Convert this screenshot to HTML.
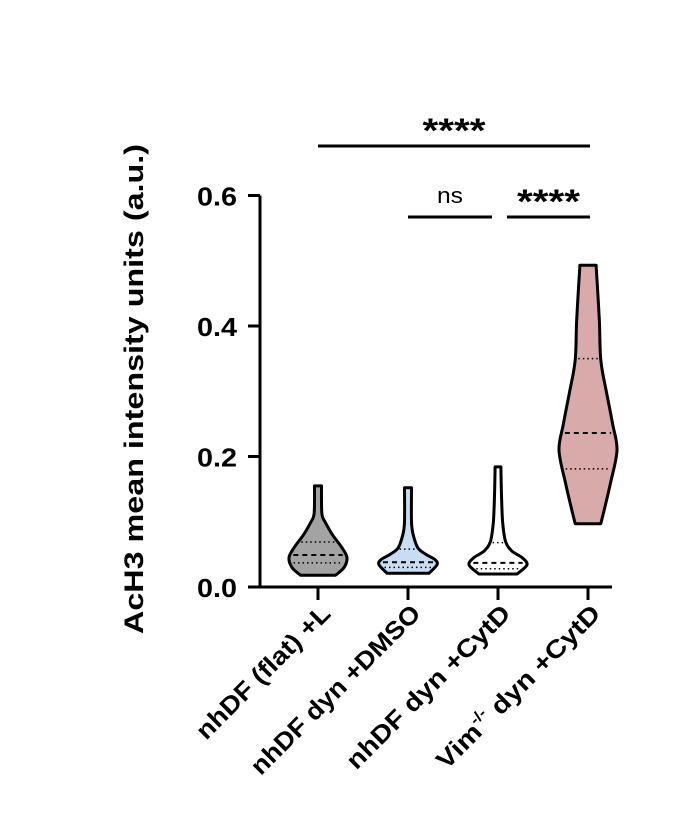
<!DOCTYPE html>
<html><head><meta charset="utf-8"><style>
body{margin:0;background:#fff;}
svg text{font-family:"Liberation Sans",Arial,sans-serif;}
</style></head><body>
<svg id="chart" width="685" height="809" viewBox="0 0 685 809" xmlns="http://www.w3.org/2000/svg">
<g id="plot"></g>
</svg>
<script>
const categories = ["nhDF (flat) +L","nhDF dyn +DMSO","nhDF dyn +CytD","Vim dyn +CytD"];
const colors = ["#a3a3a3","#c9ddf2","#ffffff","#d9aaaa"];
const yTicks = [0.0,0.2,0.4,0.6];
const yTickLabels = ["0.0","0.2","0.4","0.6"];
const profileValues = [
 [0.018,0.03,0.045,0.06,0.08,0.1,0.11,0.13,0.155],
 [0.021,0.034,0.042,0.05,0.06,0.08,0.1,0.152],
 [0.02,0.034,0.045,0.055,0.07,0.1,0.14,0.184],
 [0.097,0.12,0.16,0.21,0.25,0.3,0.348,0.41,0.493]
];
const profileDensity = [
 [0.6,0.9,1.0,0.83,0.5,0.24,0.14,0.12,0.12],
 [0.72,1.0,0.93,0.62,0.34,0.18,0.12,0.12],
 [0.66,1.0,0.83,0.48,0.26,0.16,0.12,0.1],
 [0.44,0.57,0.78,1.0,0.85,0.63,0.44,0.39,0.28]
];
const medians = [0.049,0.038,0.037,0.236];
const lowerQ = [0.037,0.03,0.028,0.181];
const upperQ = [0.069,0.058,0.068,0.35];
const sigPairs = [[0,3],[1,2],[2,3]];
const sigLabels = ["****","ns","****"];

const NS="http://www.w3.org/2000/svg";
const g=document.getElementById('plot');
const y0=587, pxPerUnit=652.5, axisX=260;
function yScale(v){return y0-v*pxPerUnit;}
function xScale(i){return 318+i*90;}
const maxHW=29;
function mk(tag,attrs,parent){const e=document.createElementNS(NS,tag);for(const k in attrs)e.setAttribute(k,attrs[k]);(parent||g).appendChild(e);return e;}
function smooth(pts){
 let d='';
 for(let i=0;i<pts.length-1;i++){
  const p0=pts[Math.max(i-1,0)],p1=pts[i],p2=pts[i+1],p3=pts[Math.min(i+2,pts.length-1)];
  const c1=[p1[0]+(p2[0]-p0[0])/6,p1[1]+(p2[1]-p0[1])/6];
  const c2=[p2[0]-(p3[0]-p1[0])/6,p2[1]-(p3[1]-p1[1])/6];
  d+=' C'+c1[0].toFixed(1)+','+c1[1].toFixed(1)+' '+c2[0].toFixed(1)+','+c2[1].toFixed(1)+' '+p2[0].toFixed(1)+','+p2[1].toFixed(1);
 }
 return d;
}

let e=mk('line',{x1:axisX,y1:y0+1.5,x2:axisX,y2:yScale(0.6),stroke:'#000','stroke-width':3});


e=mk('line',{x1:axisX-1.5,y1:y0,x2:612,y2:y0,stroke:'#000','stroke-width':3});


yTicks.forEach((t,i)=>{
 let tk=mk('line',{x1:axisX-12,y1:yScale(t),x2:axisX,y2:yScale(t),stroke:'#000','stroke-width':3});
 
 
 let tl=mk('text',{x:197,y:yScale(t)+10,'font-size':26,'font-weight':'bold',textLength:40,lengthAdjust:'spacingAndGlyphs'});
 tl.textContent=yTickLabels[i];
 
 
});
let yt=mk('text',{x:0,y:0,'text-anchor':'middle','font-size':27,'font-weight':'bold',textLength:490,lengthAdjust:'spacingAndGlyphs',transform:'translate(143,389) rotate(-90)'});
yt.textContent='AcH3 mean intensity units (a.u.)';



categories.forEach((c,i)=>{
 const cx=xScale(i);
 let tk=mk('line',{x1:cx,y1:y0,x2:cx,y2:y0+13,stroke:'#000','stroke-width':3});
 
 
 const vs=profileValues[i], ds=profileDensity[i];
 let right=vs.map((v,k)=>[cx+ds[k]*maxHW,yScale(v)]);
 let left=vs.map((v,k)=>[cx-ds[k]*maxHW,yScale(v)]).reverse();
 let d='M'+left[left.length-1][0].toFixed(1)+','+left[left.length-1][1].toFixed(1)+' L'+right[0][0].toFixed(1)+','+right[0][1].toFixed(1)+smooth(right)+' L'+left[0][0].toFixed(1)+','+left[0][1].toFixed(1)+smooth(left)+' Z';
 let vp=mk('path',{d:d,fill:colors[i],stroke:'#000','stroke-width':3,'stroke-linejoin':'round'});
 
 
 function hwAt(v){for(let k=0;k<vs.length-1;k++){if(v>=vs[k]&&v<=vs[k+1]){const f=(v-vs[k])/(vs[k+1]-vs[k]);return (ds[k]+f*(ds[k+1]-ds[k]))*maxHW;}}return 0;}
 [[medians[i],'5,4',2,'median-line'],[lowerQ[i],'1.5,3',1.5,'lower-quartile-line'],[upperQ[i],'1.5,3',1.5,'upper-quartile-line']].forEach(q=>{
  const w=hwAt(q[0])-3;
  let l=mk('line',{x1:cx-w,y1:yScale(q[0]),x2:cx+w,y2:yScale(q[0]),stroke:'#000','stroke-width':q[2],'stroke-dasharray':q[1]});
  
  
 });
 const lens=[178,228,220,220];
 let t=mk('text',{x:0,y:0,'text-anchor':'end','font-size':25,'font-weight':'bold',textLength:lens[i],lengthAdjust:'spacingAndGlyphs',transform:'translate('+(cx+14)+',615) rotate(-45)'});
 if(i===3){
  t.appendChild(document.createTextNode('Vim'));
  let s=document.createElementNS(NS,'tspan');s.setAttribute('dy','-11');s.setAttribute('font-size','15');s.textContent='-/-';t.appendChild(s);
  let s2=document.createElementNS(NS,'tspan');s2.setAttribute('dy','11');s2.textContent='  dyn +CytD';t.appendChild(s2);
 } else t.textContent=c;
 
 
});

const barY=[146,217,217];
sigPairs.forEach((p,k)=>{
 const xa=k===2?507:xScale(p[0]);
 const x2=xScale(p[1])+(k===1?-6:2);
 let b=mk('line',{x1:xa,y1:barY[k],x2:x2,y2:barY[k],stroke:'#000','stroke-width':3});
 
 
 const isNs=sigLabels[k]==='ns';
 let t=mk('text',{x:(xa+x2)/2,y:barY[k]-(isNs?14:4),'text-anchor':'middle','font-size':isNs?22:34,'font-weight':isNs?'normal':'bold',textLength:isNs?26:63,lengthAdjust:'spacingAndGlyphs'});
 t.textContent=sigLabels[k];
 
 
});
</script>
</body></html>
